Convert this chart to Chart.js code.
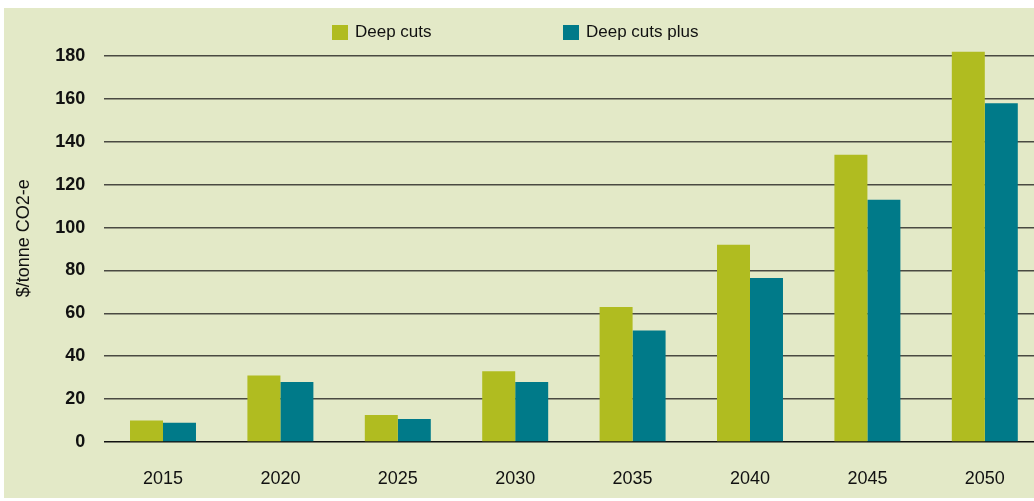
<!DOCTYPE html>
<html>
<head>
<meta charset="utf-8">
<script src="https://cdn.jsdelivr.net/npm/chart.js@4"></script>
<style>
  html, body { margin: 0; padding: 0; background: #ffffff; overflow: hidden; }
  #wrap { position: absolute; left: 0; top: 0; width: 1050px; height: 501px; }
</style>
</head>
<body>
<div id="wrap"><canvas id="c" width="1050" height="501"></canvas></div>
<script>
const categories = ['2015', '2020', '2025', '2030', '2035', '2040', '2045', '2050'];
const deepCuts = [10, 31, 12.6, 33, 63, 92, 134, 182];
const deepCutsPlus = [9, 28, 10.7, 28, 52, 76.5, 113, 158];
const seriesNames = ['Deep cuts', 'Deep cuts plus'];
const yTicks = [0, 20, 40, 60, 80, 100, 120, 140, 160, 180];
const yTitle = '$/tonne CO2-e';

const BG = '#e3e9c7';
const GREEN = '#b0bc20';
const TEAL = '#007a89';

const bgPlugin = {
  id: 'bg',
  beforeDraw(chart) {
    const ctx = chart.ctx;
    ctx.save();
    ctx.fillStyle = '#ffffff';
    ctx.fillRect(0, 0, chart.width, chart.height);
    ctx.fillStyle = BG;
    ctx.fillRect(4, 8, chart.width - 4, 490);
    ctx.restore();
  }
};

const legendPlugin = {
  id: 'customLegend',
  afterDraw(chart) {
    const ctx = chart.ctx;
    const xs = [332, 563];
    ctx.save();
    ctx.font = '17px "Liberation Sans", Arial, sans-serif';
    ctx.textBaseline = 'middle';
    ctx.textAlign = 'left';
    chart.data.datasets.forEach((ds, i) => {
      ctx.fillStyle = ds.backgroundColor;
      ctx.fillRect(xs[i], 25, 16, 15);
      ctx.fillStyle = '#111111';
      ctx.fillText(ds.label, xs[i] + 23, 32.5);
    });
    ctx.restore();
  }
};

new Chart(document.getElementById('c'), {
  type: 'bar',
  data: {
    labels: categories,
    datasets: [
      { label: seriesNames[0], data: deepCuts, backgroundColor: GREEN },
      { label: seriesNames[1], data: deepCutsPlus, backgroundColor: TEAL }
    ]
  },
  options: {
    responsive: false,
    animation: false,
    layout: { padding: { top: 34.6, right: 6.5, left: 0, bottom: 0 } },
    plugins: { legend: { display: false }, tooltip: { enabled: false } },
    datasets: { bar: { barPercentage: 1, categoryPercentage: 0.562 } },
    scales: {
      x: {
        grid: { display: false, drawTicks: false },
        border: { display: false },
        ticks: {
          padding: 26,
          color: '#111111',
          font: { family: '"Liberation Sans", Arial, sans-serif', size: 18 }
        },
        afterFit(s) { s.height = 59; }
      },
      y: {
        min: 0,
        max: 190,
        afterBuildTicks(s) { s.ticks = yTicks.map(v => ({ value: v })); },
        grid: {
          drawTicks: false,
          color: (c) => c.tick && c.tick.value === 0 ? '#111111' : '#4a4a42',
          lineWidth: 1.5
        },
        border: { display: false },
        ticks: {
          padding: 19,
          color: '#111111',
          font: { family: '"Liberation Sans", Arial, sans-serif', size: 18, weight: 'bold' }
        },
        title: {
          display: true,
          text: yTitle,
          color: '#111111',
          padding: { top: 13, bottom: 0 },
          font: { family: '"Liberation Sans", Arial, sans-serif', size: 18 }
        },
        afterFit(s) { s.width = 104.3; }
      }
    }
  },
  plugins: [bgPlugin, legendPlugin]
});
</script>
</body>
</html>
